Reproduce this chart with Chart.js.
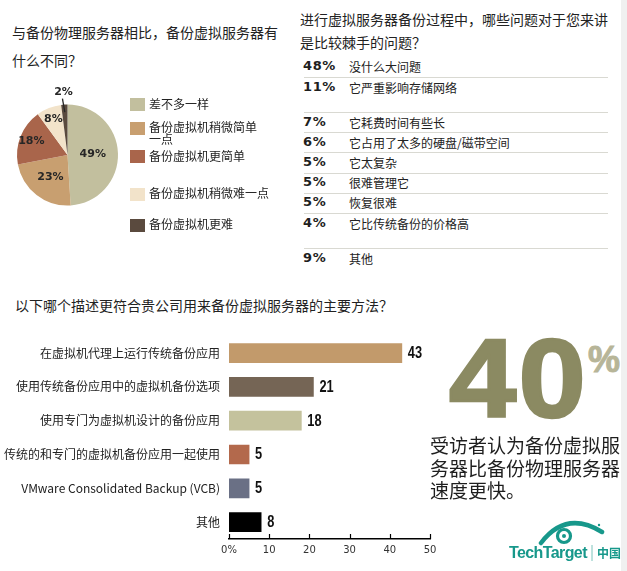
<!DOCTYPE html>
<html>
<head>
<meta charset="utf-8">
<script src="https://cdn.jsdelivr.net/npm/chart.js@4.4.1/dist/chart.umd.min.js"></script>
<style>
  body { margin: 0; background: #fff; }
  #page { position: relative; width: 627px; height: 571px; overflow: hidden; font-family: "Noto Sans CJK SC", sans-serif; color: #222; }
  .abs { position: absolute; white-space: nowrap; }
  canvas { position: absolute; }
  #strip { position: absolute; left: 621px; top: 0; width: 6px; height: 571px; background: #f0f0f0; }
</style>
</head>
<body>
<div id="page">
  <div id="strip"></div>

  <div class="abs" style="left:12px; top:18px; font-size:14px; line-height:28px;">与备份物理服务器相比，备份虚拟服务器有<br>什么不同？</div>
  <canvas id="pie" width="135" height="135" style="left:0; top:80px;"></canvas>
  <div id="pieLegend"></div>

  <div class="abs" style="left:300px; top:8px; font-size:14px; line-height:23px;">进行虚拟服务器备份过程中，哪些问题对于您来讲<br>是比较棘手的问题？</div>
  <div id="issues"></div>

  <div class="abs" style="left:15px; top:295px; font-size:14px; line-height:20px;">以下哪个描述更符合贵公司用来备份虚拟服务器的主要方法？</div>
  <canvas id="bars" width="445" height="245" style="left:0; top:320px;"></canvas>

  <div id="bigStat" class="abs" style="left:449px; top:323px; font-family:'Liberation Sans',sans-serif; font-weight:bold; font-size:112px; line-height:112px; color:#8b8a62; -webkit-text-stroke:2.5px #8b8a62; letter-spacing:2px; transform:scaleX(1.08); transform-origin:left top;"></div>
  <div class="abs" style="left:588px; top:342px; font-family:'Liberation Sans',sans-serif; font-weight:bold; font-size:36px; line-height:36px; color:#b7b598; -webkit-text-stroke:1px #b7b598;">%</div>
  <div class="abs" style="left:430px; top:434px; font-size:19px; line-height:22.5px; color:#1e1e1e;">受访者认为备份虚拟服<br>务器比备份物理服务器<br>速度更快。</div>

  <svg class="abs" style="left:0; top:0;" width="627" height="571">
    <path d="M541 543 Q566 510 602 532" fill="none" stroke="#17988b" stroke-width="4.5" stroke-linecap="round"/>
    <circle cx="564" cy="536" r="6.5" fill="none" stroke="#17988b" stroke-width="3.2"/>
    <circle cx="564" cy="536" r="2" fill="#17988b"/>
    <circle cx="599" cy="525" r="1.2" fill="#17988b"/>
    <line x1="592" y1="545" x2="592" y2="561" stroke="#7cc4bc" stroke-width="1"/>
  </svg>
  <div class="abs" style="left:509px; top:543px; font-family:'Liberation Sans',sans-serif; font-weight:bold; font-size:16px; line-height:20px; letter-spacing:-0.6px; color:#17988b;">TechTarget</div>
  <div class="abs" style="left:597px; top:545px; font-weight:bold; font-size:12px; line-height:16px; color:#17988b;">中国</div>
</div>

<script>
// pie: 与备份物理服务器相比
const pieLabels = ['差不多一样', '备份虚拟机稍微简单一点', '备份虚拟机更简单', '备份虚拟机稍微难一点', '备份虚拟机更难']
const pieValues = [49, 23, 18, 8, 2]
const pieColors = ['#c2bf9e', '#c89f70', '#a9654b', '#f2e3ca', '#5a4a3e']

// list: 棘手的问题
const issuePct = [48, 11, 7, 6, 5, 5, 5, 4, 9]
const issueLabels = ['没什么大问题', '它严重影响存储网络', '它耗费时间有些长', '它占用了太多的硬盘/磁带空间', '它太复杂', '很难管理它', '恢复很难', '它比传统备份的价格高', '其他']

// bars: 主要方法
const methodLabels = ['在虚拟机代理上运行传统备份应用', '使用传统备份应用中的虚拟机备份选项', '使用专门为虚拟机设计的备份应用', '传统的和专门的虚拟机备份应用一起使用', 'VMware Consolidated Backup (VCB)', '其他']
const methodValues = [43, 21, 18, 5, 5, 8]
const methodColors = ['#c29a6b', '#756555', '#c4c29d', '#b3694c', '#6a7085', '#000000']
const axisTicks = [0, 10, 20, 30, 40, 50]

const fasterShare = 40

// layout bits (not data)
const legendY = [104.5, 128, 156.5, 194, 225]
const issueY = [67, 88, 123, 143, 163, 183, 203, 224, 259]
const ruleY = [77, 112, 132, 152, 173, 193, 213, 248]
const pieLabelRadius = [0.5, 0.55, 0.77, 0.76, 1.25]

document.getElementById('bigStat').textContent = fasterShare

// legend for the pie
const legend = document.getElementById('pieLegend')
pieLabels.forEach((label, i) => {
  const sq = document.createElement('div')
  sq.className = 'abs'
  sq.style.cssText = `left:130px; top:${legendY[i] - 6.5}px; width:15px; height:13px; background:${pieColors[i]};`
  legend.appendChild(sq)
  const txt = document.createElement('div')
  txt.className = 'abs'
  // only the long one wraps
  const wrap = label.length > 10 ? 'width:112px; white-space:normal;' : ''
  txt.style.cssText = `left:149px; top:${legendY[i] - 7}px; ${wrap} font-size:12px; line-height:11.5px; color:#222;`
  txt.textContent = label
  legend.appendChild(txt)
})

// issue list
const issues = document.getElementById('issues')
issuePct.forEach((p, i) => {
  const pct = document.createElement('div')
  pct.className = 'abs'
  pct.style.cssText = `left:303px; top:${issueY[i] - 9}px; font-family:'DejaVu Sans',sans-serif; font-weight:bold; font-size:13px; line-height:16px; letter-spacing:0.6px; color:#1e1e1e;`
  pct.textContent = p + '%'
  issues.appendChild(pct)
  const lab = document.createElement('div')
  lab.className = 'abs'
  lab.style.cssText = `left:349px; top:${issueY[i] - 8}px; font-size:12px; line-height:16px; color:#222;`
  lab.textContent = issueLabels[i]
  issues.appendChild(lab)
})
ruleY.forEach(y => {
  const r = document.createElement('div')
  r.className = 'abs'
  r.style.cssText = `left:304px; top:${y}px; width:304px; height:1px; background:#d9d9d2;`
  issues.appendChild(r)
})

const pieLabelPlugin = {
  id: 'pieLabels',
  afterDatasetsDraw (chart) {
    const ctx = chart.ctx
    const meta = chart.getDatasetMeta(0)
    ctx.save()
    ctx.font = 'bold 11px "DejaVu Sans"'
    ctx.fillStyle = '#262626'
    ctx.strokeStyle = '#262626'
    ctx.textAlign = 'center'
    ctx.textBaseline = 'middle'
    meta.data.forEach((arc, i) => {
      const mid = (arc.startAngle + arc.endAngle) / 2
      const r = arc.outerRadius
      const f = pieLabelRadius[i]
      ctx.fillText(pieValues[i] + '%', arc.x + Math.cos(mid) * r * f, arc.y + Math.sin(mid) * r * f)
      if (f > 1) {
        ctx.lineWidth = 1.3
        ctx.beginPath()
        ctx.moveTo(arc.x + Math.cos(mid) * r * 1.12 - 1.5, arc.y + Math.sin(mid) * r * 1.12)
        ctx.lineTo(arc.x + Math.cos(mid) * r * 0.85, arc.y + Math.sin(mid) * r * 0.85)
        ctx.stroke()
      }
    })
    ctx.restore()
  }
}

new Chart(document.getElementById('pie'), {
  type: 'pie',
  data: {
    labels: pieLabels,
    datasets: [{ data: pieValues, backgroundColor: pieColors, borderWidth: 0 }]
  },
  options: {
    responsive: false,
    animation: false,
    layout: { padding: { left: 17, right: 17, top: 24, bottom: 9 } },
    plugins: { legend: { display: false }, tooltip: { enabled: false } }
  },
  plugins: [pieLabelPlugin]
})

const valuePlugin = {
  id: 'barValues',
  afterDatasetsDraw (chart) {
    const ctx = chart.ctx
    chart.getDatasetMeta(0).data.forEach((bar, i) => {
      ctx.save()
      ctx.font = 'bold 16px "Liberation Sans", sans-serif'
      ctx.fillStyle = '#111'
      ctx.textBaseline = 'middle'
      // squeeze it, the original uses a narrow face
      ctx.translate(bar.x + 6, bar.y + 0.5)
      ctx.scale(0.8, 1)
      ctx.fillText(methodValues[i], 0, 0)
      ctx.restore()
    })
  }
}

const tickMarkPlugin = {
  id: 'tickMarks',
  afterDraw (chart) {
    const ctx = chart.ctx
    const x = chart.scales.x
    ctx.save()
    ctx.strokeStyle = '#000'
    ctx.lineWidth = 1.2
    axisTicks.forEach(v => {
      const px = Math.round(x.getPixelForValue(v)) + 0.5
      ctx.beginPath()
      ctx.moveTo(px, x.top)
      ctx.lineTo(px, x.top - 5)
      ctx.stroke()
    })
    ctx.restore()
  }
}

new Chart(document.getElementById('bars'), {
  type: 'bar',
  data: {
    labels: methodLabels,
    datasets: [{ data: methodValues, backgroundColor: methodColors, barThickness: 19 }]
  },
  options: {
    indexAxis: 'y',
    responsive: false,
    animation: false,
    layout: { padding: { top: 11, right: 15, bottom: 6, left: 0 } },
    plugins: { legend: { display: false }, tooltip: { enabled: false } },
    scales: {
      x: {
        min: 0,
        max: 50,
        afterBuildTicks: s => { s.ticks = axisTicks.map(v => ({ value: v })) },
        afterFit: s => { s.height = 20 },
        grid: { display: false, drawTicks: false },
        border: { color: '#000', width: 1.5 },
        ticks: {
          callback: v => v === 0 ? '0%' : v,
          color: '#333',
          padding: 5,
          font: { size: 10, family: '"DejaVu Sans", sans-serif' }
        }
      },
      y: {
        afterFit: s => { s.width = 229 },
        grid: { display: false, drawTicks: false },
        border: { display: false },
        ticks: {
          color: '#222',
          padding: 9,
          font: { size: 12, family: '"Noto Sans CJK SC", sans-serif' }
        }
      }
    }
  },
  plugins: [valuePlugin, tickMarkPlugin]
})
</script>
</body>
</html>
